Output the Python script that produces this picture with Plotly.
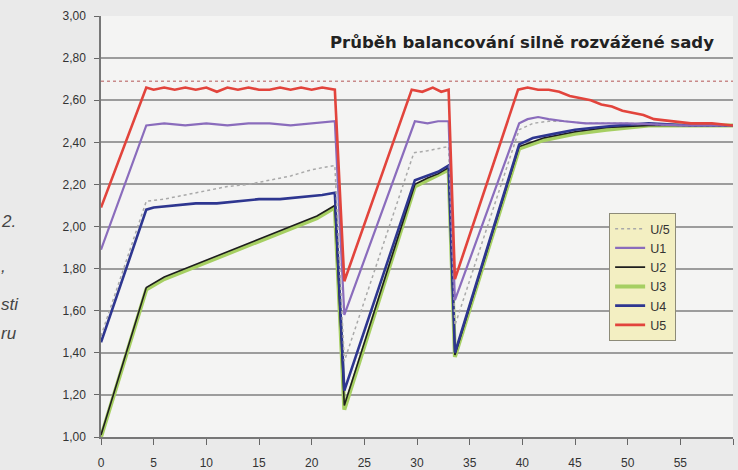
import plotly.graph_objects as go

# ---- data (time in minutes, voltage in V) ----
T_U5 = [0, 4.3, 5, 6, 7, 8, 9, 10, 11, 12, 13, 14, 15, 16, 17, 18, 19, 20, 21, 22.2,
        23.1, 29.5, 30.5, 31.5, 32.3, 33.0, 33.6, 39.6, 40.5, 41.5, 42.5, 43.5, 44.5,
        45.5, 46.5, 47.5, 48.5, 49.5, 50.5, 51.5, 52.5, 54, 56, 58, 60]
U5 = [2.09, 2.66, 2.65, 2.66, 2.65, 2.66, 2.65, 2.66, 2.64, 2.66, 2.65, 2.66, 2.65, 2.65,
      2.66, 2.65, 2.66, 2.65, 2.66, 2.65, 1.74, 2.65, 2.64, 2.66, 2.64, 2.65, 1.75, 2.65,
      2.66, 2.65, 2.65, 2.64, 2.62, 2.61, 2.60, 2.58, 2.57, 2.55, 2.54, 2.53, 2.51, 2.50,
      2.49, 2.49, 2.48]

T_U1 = [0, 4.3, 6, 8, 10, 12, 14, 16, 18, 20, 22.2, 23.1, 29.8, 31, 32, 33.0, 33.6,
        39.7, 40.5, 41.5, 42.5, 44, 46, 48, 50, 55, 60]
U1 = [1.89, 2.48, 2.49, 2.48, 2.49, 2.48, 2.49, 2.49, 2.48, 2.49, 2.50, 1.58, 2.50, 2.49,
      2.50, 2.50, 1.65, 2.49, 2.51, 2.52, 2.51, 2.50, 2.49, 2.49, 2.49, 2.48, 2.48]

T_U4 = [0, 4.3, 5, 7, 9, 11, 13, 15, 17, 19, 21, 22.2, 23.1, 29.8, 31, 32, 33.0, 33.6,
        39.7, 41, 43, 45, 47, 49, 52, 56, 60]
U4 = [1.45, 2.08, 2.09, 2.10, 2.11, 2.11, 2.12, 2.13, 2.13, 2.14, 2.15, 2.16, 1.22, 2.22,
      2.24, 2.26, 2.29, 1.40, 2.39, 2.42, 2.44, 2.46, 2.47, 2.48, 2.49, 2.48, 2.48]

T_U3 = [0, 4.3, 6, 9, 12, 15, 18, 20.5, 22.2, 23.1, 29.8, 31, 32, 33.0, 33.6, 39.7, 42,
        45, 48, 52, 56, 60]
U3 = [1.00, 1.70, 1.75, 1.81, 1.87, 1.93, 1.99, 2.04, 2.09, 1.13, 2.19, 2.22, 2.24, 2.27,
      1.38, 2.37, 2.41, 2.44, 2.46, 2.48, 2.48, 2.48]

T_U2 = [0, 4.3, 6, 9, 12, 15, 18, 20.5, 22.2, 23.1, 29.8, 31, 32, 33.0, 33.6, 39.7, 42,
        45, 48, 52, 56, 60]
U2 = [1.01, 1.71, 1.76, 1.82, 1.88, 1.94, 2.00, 2.05, 2.10, 1.15, 2.20, 2.23, 2.25, 2.28,
      1.39, 2.38, 2.42, 2.45, 2.47, 2.48, 2.48, 2.48]

T_AVG = [0, 4.3, 6, 8, 10, 12, 14, 16, 18, 20, 22.2, 23.1, 29.7, 31, 32, 33.0, 33.6,
         39.7, 41, 42.5, 44, 46, 48, 50, 55, 60]
U_AVG = [1.48, 2.12, 2.13, 2.15, 2.17, 2.19, 2.20, 2.22, 2.24, 2.27, 2.29, 1.36, 2.35,
         2.36, 2.37, 2.38, 1.53, 2.46, 2.49, 2.50, 2.50, 2.49, 2.49, 2.49, 2.48, 2.48]

LIMIT_T = [0, 60]
LIMIT_U = [2.69, 2.69]

X_TICKS = list(range(0, 61, 5))
Y_TICKS = [1.0, 1.2, 1.4, 1.6, 1.8, 2.0, 2.2, 2.4, 2.6, 2.8, 3.0]

TITLE = "Průběh balancování silně rozvážené sady"
SIDE_TEXT = ["2.", ",", "sti", "ru"]

# ---- figure ----
fig = go.Figure()

fig.add_trace(go.Scatter(x=LIMIT_T, y=LIMIT_U, mode="lines", showlegend=False,
                         line=dict(color="#c98a8a", width=1.5, dash="dot"),
                         hoverinfo="skip"))

# draw order: green under black, then blue, avg, purple, red on top
fig.add_trace(go.Scatter(x=T_U3, y=U3, name="U3", mode="lines", legendrank=4,
                         line=dict(color="#a6cf62", width=4)))
fig.add_trace(go.Scatter(x=T_U2, y=U2, name="U2", mode="lines", legendrank=3,
                         line=dict(color="#1e1e1e", width=1.6)))
fig.add_trace(go.Scatter(x=T_U4, y=U4, name="U4", mode="lines", legendrank=5,
                         line=dict(color="#2e3690", width=2.6)))
fig.add_trace(go.Scatter(x=T_AVG, y=U_AVG, name="U/5", mode="lines", legendrank=1,
                         line=dict(color="#a9a9a9", width=1.5, dash="dot")))
fig.add_trace(go.Scatter(x=T_U1, y=U1, name="U1", mode="lines", legendrank=2,
                         line=dict(color="#8a6cbc", width=2.2)))
fig.add_trace(go.Scatter(x=T_U5, y=U5, name="U5", mode="lines", legendrank=6,
                         line=dict(color="#e2443c", width=2.6)))

fig.update_layout(
    width=738, height=470,
    margin=dict(l=101, r=5, t=16, b=33),
    paper_bgcolor="#eaeaea",
    plot_bgcolor="#f4f4f3",
    separators=", ",
    font=dict(family="Liberation Sans, Arial, sans-serif", size=12, color="#333333"),
    showlegend=True,
    legend=dict(x=0.804, y=0.532, xanchor="left", yanchor="top",
                bgcolor="#f3efc2", bordercolor="#8d8b78", borderwidth=1,
                font=dict(size=12.5, color="#333333"), tracegroupgap=0,
                itemwidth=30),
)

fig.update_xaxes(range=[0, 60], tickvals=X_TICKS, ticks="outside", ticklen=6,
                 tickcolor="#666666", showgrid=False, zeroline=False, automargin=False,
                 showline=True, linecolor="#777777", linewidth=1.5,
                 ticklabelstandoff=8, tickfont=dict(size=12, color="#333333"))
fig.update_yaxes(range=[1.0, 3.0], tickvals=Y_TICKS, tickformat=".2f",
                 ticks="outside", ticklen=5, tickcolor="#666666", automargin=False,
                 showgrid=True, gridcolor="#9c9c9c", gridwidth=1.5, zeroline=False,
                 showline=True, linecolor="#777777", linewidth=1.5,
                 ticklabelstandoff=6, tickfont=dict(size=12, color="#333333"))

fig.add_annotation(x=0.666, y=0.936, xref="paper", yref="paper", text="<b>" + TITLE + "</b>",
                   showarrow=False,
                   font=dict(family="DejaVu Sans, sans-serif", size=16.5, color="#222222"),
                   xanchor="center", yanchor="middle")

side_y = [0.511, 0.406, 0.314, 0.247]
for txt, yy in zip(SIDE_TEXT, side_y):
    fig.add_annotation(x=-0.162, y=yy, xref="paper", yref="paper", text="<i>" + txt + "</i>",
                       showarrow=False, xanchor="left", yanchor="middle",
                       font=dict(size=17, color="#444444"))

fig.write_html("out.html", config={"displayModeBar": False},
               post_script="document.body.style.margin='0';")
